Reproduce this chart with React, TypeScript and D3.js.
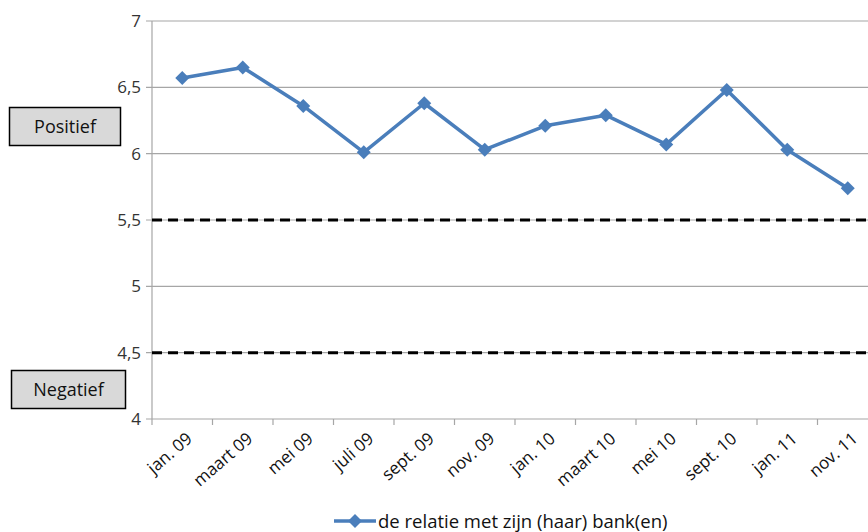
import React from "react";
import * as d3 from "d3";

const categories = [
  "jan. 09", "maart 09", "mei 09", "juli 09", "sept. 09", "nov. 09",
  "jan. 10", "maart 10", "mei 10", "sept. 10", "jan. 11", "nov. 11",
];
const values = [6.57, 6.65, 6.36, 6.01, 6.38, 6.03, 6.21, 6.29, 6.07, 6.48, 6.03, 5.74];
const yTicks = [4, 4.5, 5, 5.5, 6, 6.5, 7];
const thresholds = [5.5, 4.5];
const seriesName = "de relatie met zijn (haar) bank(en)";

const W = 868;
const H = 532;
const left = 152;
const right = 878;
const top = 21;
const bottom = 419;
const font = "'Open Sans', 'Noto Sans', sans-serif";
const blue = "#4a7ebb";

const x = d3.scaleBand<string>().domain(categories).range([left, right]);
const y = d3.scaleLinear().domain([4, 7]).range([bottom, top]);
const fmt = (v: number) => String(v).replace(".", ",");

function Diamond({ cx, cy, r }: { cx: number; cy: number; r: number }) {
  return <path d={`M${cx},${cy - r}L${cx + r},${cy}L${cx},${cy + r}L${cx - r},${cy}Z`} fill={blue} />;
}

export default function App() {
  const cx = (c: string) => (x(c) ?? 0) + x.bandwidth() / 2;
  const line = d3
    .line<number>()
    .x((_, i) => cx(categories[i]))
    .y((v) => y(v));

  return (
    <svg width={W} height={H} style={{ position: "absolute", left: 0, top: 0, background: "#fff" }}>
      {/* horizontal gridlines */}
      {yTicks.map((t) => (
        <g key={t}>
          <line x1={left - 6} x2={right} y1={y(t)} y2={y(t)} stroke="#a6a6a6" strokeWidth={1.2} />
          <text x={141} y={y(t)} dy="0.36em" textAnchor="end" fontFamily={font} fontSize={17} fill="#333">
            {fmt(t)}
          </text>
        </g>
      ))}
      {/* value axis */}
      <line x1={left} x2={left} y1={top} y2={bottom} stroke="#a6a6a6" strokeWidth={1.2} />
      {/* category ticks */}
      {categories.map((c) => (
        <line key={c} x1={x(c)} x2={x(c)} y1={bottom} y2={bottom + 6} stroke="#a6a6a6" strokeWidth={1.2} />
      ))}
      {/* category labels */}
      {categories.map((c) => (
        <text
          key={c}
          transform={`translate(${cx(c) + 3},${bottom + 12}) rotate(-41)`}
          textAnchor="end"
          dy="0.72em"
          fontFamily={font}
          fontSize={17}
          fill="#111"
        >
          {c}
        </text>
      ))}
      {/* threshold lines */}
      {thresholds.map((t) => (
        <line
          key={t}
          x1={left}
          x2={right}
          y1={y(t)}
          y2={y(t)}
          stroke="#000"
          strokeWidth={3}
          strokeDasharray="10 6"
        />
      ))}
      {/* series */}
      <path d={line(values) ?? ""} fill="none" stroke={blue} strokeWidth={3.5} strokeLinejoin="round" />
      {values.map((v, i) => (
        <Diamond key={i} cx={cx(categories[i])} cy={y(v)} r={7} />
      ))}
      {/* zone boxes */}
      <g fontFamily={font} fontSize={18} fill="#111">
        <rect x={9.5} y={107.5} width={111} height={38} fill="#d9d9d9" stroke="#000" strokeWidth={1.5} />
        <text x={65} y={126.5} dy="0.36em" textAnchor="middle">Positief</text>
        <rect x={11.5} y={370.5} width={114} height={38} fill="#d9d9d9" stroke="#000" strokeWidth={1.5} />
        <text x={68.5} y={389.5} dy="0.36em" textAnchor="middle">Negatief</text>
      </g>
      {/* legend */}
      <line x1={334} x2={376} y1={521} y2={521} stroke={blue} strokeWidth={3.5} />
      <Diamond cx={355} cy={521} r={7} />
      <text x={378} y={521} dy="0.36em" fontFamily={font} fontSize={18.5} fill="#111">
        {seriesName}
      </text>
    </svg>
  );
}
